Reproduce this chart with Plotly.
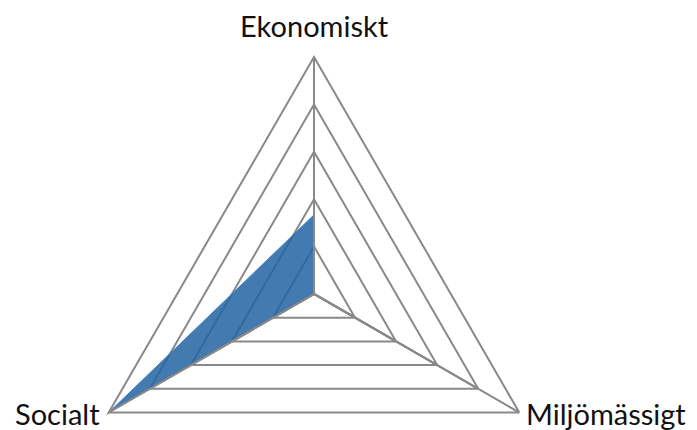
import numpy as np
import plotly.graph_objects as go

# data
categories = ["Ekonomiskt", "Miljömässigt", "Socialt"]
values = [1.67, 0, 5]
rings = [1, 2, 3, 4, 5]

OFF = 8                        # page body margin
W, H = 697 - OFF, 430 - OFF
cx, cy, R = 314 - OFF, 294 - OFF, 237   # centre and outer radius in px
rmax = rings[-1]
grid = "#898989"

fig = go.Figure()

# polar part: sector covering the upper two edges of each triangle
fig.add_trace(go.Scatterpolar(
    r=values + values[:1],
    theta=categories + categories[:1],
    fill="toself",
    fillcolor="rgba(36,100,162,0.86)",
    line=dict(color="#3d82c8", width=1),
    mode="lines",
    hoverinfo="skip",
    showlegend=False,
))

# bottom edges of the triangles (outside the polar sector), on a matching cartesian frame
bx, by = [], []
for k in rings:
    half = k * np.cos(np.radians(30))
    bx += [-half, half, None]
    by += [-k / 2, -k / 2, None]
fig.add_trace(go.Scatter(
    x=bx, y=by, mode="lines",
    line=dict(color=grid, width=2),
    hoverinfo="skip", showlegend=False,
))

# axis labels at the outer vertices
angles = [90, -30, 210]
label_style = [
    dict(xanchor="center", yanchor="bottom", xshift=0, yshift=12),
    dict(xanchor="left", yanchor="middle", xshift=5, yshift=-1),
    dict(xanchor="right", yanchor="middle", xshift=-7, yshift=-1),
]
for name, a, st in zip(categories, angles, label_style):
    fig.add_annotation(x=rmax * np.cos(np.radians(a)), y=rmax * np.sin(np.radians(a)),
                       xref="x", yref="y", text=name, showarrow=False, **st)

u = R / rmax  # px per unit
pad = 0.3
fig.update_layout(
    width=W, height=H,
    margin=dict(l=0, r=0, t=0, b=0),
    paper_bgcolor="white",
    plot_bgcolor="rgba(0,0,0,0)",
    font=dict(family="Lato, Calibri, sans-serif", size=29, color="#111111"),
    polar=dict(
        sector=[-30, 210],
        gridshape="linear",
        bgcolor="rgba(0,0,0,0)",
        domain=dict(x=[(cx - R) / W, (cx + R) / W],
                    y=[(H - (cy + R / 2)) / H, (H - (cy - R)) / H]),
        radialaxis=dict(range=[0, rmax], tickvals=rings, showticklabels=False,
                        ticks="", angle=90, showline=True, linecolor=grid,
                        linewidth=2, gridcolor=grid, gridwidth=2),
        angularaxis=dict(categoryorder="array", categoryarray=categories,
                         rotation=90, direction="clockwise",
                         linecolor=grid, linewidth=2, showline=True,
                         gridcolor=grid, gridwidth=1.2, showticklabels=False),
    ),
    xaxis=dict(range=[-rmax - pad, rmax + pad], visible=False,
               domain=[(cx - (rmax + pad) * u) / W, (cx + (rmax + pad) * u) / W]),
    yaxis=dict(range=[-rmax / 2 - pad, rmax + pad], visible=False,
               domain=[(H - (cy + (rmax / 2 + pad) * u)) / H, (H - (cy - (rmax + pad) * u)) / H]),
)

fig.write_html("out.html")
